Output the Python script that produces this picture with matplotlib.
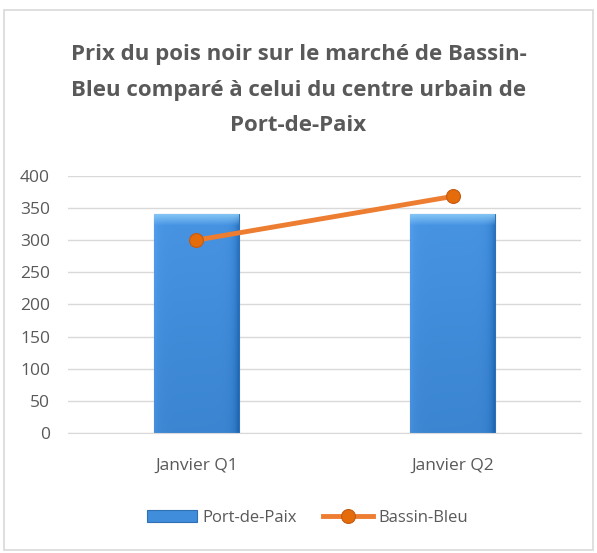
import matplotlib
matplotlib.use("Agg")
import matplotlib.pyplot as plt
import numpy as np
from matplotlib.patches import Rectangle

categories = ["Janvier Q1", "Janvier Q2"]
port_de_paix = [340, 340]
bassin_bleu = [300, 368]
yticks = [0, 50, 100, 150, 200, 250, 300, 350, 400]
title = "Prix du pois noir sur le marché de Bassin-\nBleu comparé à celui du centre urbain de\nPort-de-Paix"

plt.rcParams['font.family'] = ['Open Sans', 'DejaVu Sans']

fig = plt.figure(figsize=(5.97, 5.53), dpi=100)
fig.patches.append(Rectangle((0.006, 0.006), 0.988, 0.976, transform=fig.transFigure,
                             fill=False, edgecolor='#d9d9d9', linewidth=1.2))
ax = fig.add_axes([0.114, 0.217, 0.859, 0.465])

x = np.arange(len(categories))
bars = ax.bar(x, port_de_paix, width=0.33, color='#3f8ddb', edgecolor='#2f6fb3',
              linewidth=0.8, zorder=2, label='Port-de-Paix')

# gradient overlay on bars
h, w = 200, 60
u = np.linspace(0, 1, w)
v = np.linspace(0, 1, h)
topc = np.array([0.28, 0.58, 0.89])
botc = np.array([0.23, 0.52, 0.82])
img = topc[None, None, :] + (botc - topc)[None, None, :] * v[:, None, None]
img = np.repeat(img, w, axis=1)
# left lighter, right darker edges
edge_l = np.exp(-u / 0.06)[None, :, None] * 0.04
edge_r = np.exp(-(1 - u) / 0.05)[None, :, None] * 0.12
img = img + edge_l - edge_r
hl = np.array([0.55, 0.80, 0.97])
for i in range(10):
    a = (1 - i / 10) * 0.85
    img[i] = img[i] * (1 - a) + hl * a
img = np.clip(img, 0, 1)
for b in bars:
    bx, by, bw, bh = b.get_x(), b.get_y(), b.get_width(), b.get_height()
    im = ax.imshow(img, extent=(bx, bx + bw, by, by + bh), aspect='auto',
                   origin='upper', zorder=2.1, interpolation='bilinear')
    im.set_clip_path(b)

line, = ax.plot(x, bassin_bleu, color='#ED7D31', linewidth=3.5, marker='o',
                markersize=10, markerfacecolor='#E46C0A', markeredgecolor='#C55A11',
                markeredgewidth=0.8, zorder=3, label='Bassin-Bleu')

ax.set_xlim(-0.5, 1.5)
ax.set_ylim(0, 400)
ax.set_yticks(yticks)
ax.set_xticks(x)
ax.set_xticklabels(categories)
ax.grid(axis='y', color='#d9d9d9', linewidth=1, zorder=0)
for s in ['top', 'right', 'left']:
    ax.spines[s].set_visible(False)
ax.spines['bottom'].set_color('#d9d9d9')
ax.tick_params(axis='both', length=0, labelsize=12.5, colors='#595959')
ax.tick_params(axis='y', pad=13)
ax.tick_params(axis='x', pad=18)

fig.text(0.5, 0.837, title, ha='center', va='center', fontsize=16, fontweight='bold',
         color='#595959', linespacing=1.9)

fig.legend(handles=[bars, line], loc='center', bbox_to_anchor=(0.515, 0.063), ncol=2,
           frameon=False, fontsize=12, labelcolor='#595959', handlelength=3.0,
           columnspacing=1.6, handletextpad=0.3)

fig.savefig('out.png', dpi=100)
